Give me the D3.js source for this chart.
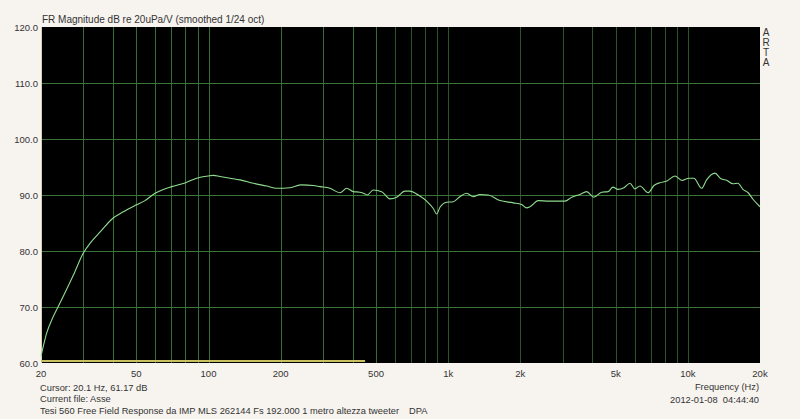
<!DOCTYPE html>
<html><head><meta charset="utf-8">
<script src="https://cdn.jsdelivr.net/npm/d3@7"></script>
<style>
html,body{margin:0;padding:0;background:#f7f3ef;}
svg{display:block;}
text{font-family:"Liberation Sans",Arial,sans-serif;fill:#333;}
</style></head>
<body>
<svg id="c" width="800" height="419"></svg>
<script>
// ---- data ----
const freqHz = [20,21.1,22.5,24.0,27.3,30.0,32.2,35.3,39.8,44.1,49.8,54.3,59.8,64.7,70.2,80.3,89.2,99.8,104.7,111.6,122.9,135.3,153.7,174.8,192.4,218.7,244.7,273.5,291.7,321.1,353.6,377.1,401.8,428.4,449.5,459.5,486.8,527.8,571.6,609.6,659.9,692.4,750.3,813.2,866.5,895.2,924.1,985.3,1050,1119,1194,1272,1357,1469,1644,1868,2025,2125,2194,2375,2615,2835,3070,3275,3545,3782,4056,4367,4653,4868,5107,5411,5731,6013,6309,6832,7217,7644,8177,8831,9446,10102,10599,11412,11973,12972,13740,14555,15418,16177,16970,17857,18734,20000];
const magDb = [61.2,65.3,68.3,70.7,75.7,79.6,81.5,83.4,85.8,87.0,88.2,89.0,90.3,91.0,91.5,92.2,93.0,93.4,93.5,93.3,93.0,92.7,92.1,91.6,91.2,91.3,91.8,91.7,91.5,91.2,90.4,91.2,90.6,90.5,90.2,90.0,90.9,90.6,89.3,89.6,90.7,90.7,90.0,88.9,87.6,86.6,87.8,88.7,88.8,89.7,90.3,89.7,90.1,90.0,89.0,88.6,88.3,87.7,87.9,89.0,88.9,88.9,88.9,89.6,90.1,90.6,89.6,90.5,90.6,91.4,91.0,91.3,92.1,91.1,91.6,90.4,91.7,92.2,92.5,93.4,92.6,93.0,93.0,91.2,92.7,93.9,92.9,92.6,92.0,92.1,91.0,90.4,89.2,87.9];
const yTicks = [60,70,80,90,100,110,120];
const xGrid = [30,40,50,60,70,80,90,100,200,300,400,500,600,700,800,900,1000,2000,3000,4000,5000,6000,7000,8000,9000,10000];
const xTickVals = [20,50,100,200,500,1000,2000,5000,10000,20000];
const xTickLabels = ["20","50","100","200","500","1k","2k","5k","10k","20k"];
const markerRange = [20,450];
const markerDb = 60.35;
const title = "FR Magnitude dB re 20uPa/V (smoothed 1/24 oct)";
const xTitle = "Frequency (Hz)";
const cursorText = "Cursor: 20.1 Hz, 61.17 dB";
const fileText = "Current file: Asse";
const descText = "Tesi 560 Free Field Response da IMP MLS 262144 Fs 192.000 1 metro altezza tweeter";
const tagText = "DPA";
const dateText = "2012-01-08  04:44:40";
const brand = ["A","R","T","A"];

// ---- drawing ----
const L=41, R=760, T=27, B=363;
const svg = d3.select("#c");
const x = d3.scaleLog().domain([20,20000]).range([L,R]);
const y = d3.scaleLinear().domain([60,120]).range([B,T]);

svg.append("rect").attr("x",L).attr("y",T).attr("width",R-L).attr("height",B-T).attr("fill","#000");

const g = svg.append("g");
g.selectAll("line.vg").data(xGrid).enter().append("line")
  .attr("x1",d=>Math.round(x(d))+0.5).attr("x2",d=>Math.round(x(d))+0.5).attr("y1",T).attr("y2",B)
  .attr("stroke",d=>d<=500?"#356e35":"#2a552a").attr("stroke-width",1);
g.selectAll("line.hg").data(yTicks.filter(d=>d>60&&d<120)).enter().append("line")
  .attr("x1",L).attr("x2",R).attr("y1",d=>Math.round(y(d))+0.5).attr("y2",d=>Math.round(y(d))+0.5)
  .attr("stroke","#3a743a").attr("stroke-width",1);

// left border
svg.append("line").attr("x1",L+0.5).attr("x2",L+0.5).attr("y1",T).attr("y2",B)
  .attr("stroke","#d8d0b0").attr("stroke-width",1);

// marker range line (yellow)
svg.append("line").attr("x1",x(markerRange[0])).attr("x2",x(markerRange[1]))
  .attr("y1",y(markerDb)).attr("y2",y(markerDb)).attr("stroke","#c8c060").attr("stroke-width",2);

// curve
const pts = freqHz.map((f,i)=>[f,magDb[i]]);
svg.append("path").datum(pts)
  .attr("d", d3.line().x(d=>x(d[0])).y(d=>y(d[1])).curve(d3.curveMonotoneX))
  .attr("fill","none").attr("stroke","#90dc90").attr("stroke-width",1.1).attr("stroke-linejoin","round");

// y labels
svg.selectAll("text.yl").data(yTicks).enter().append("text")
  .attr("x",38).attr("y",d=>y(d)+4).attr("text-anchor","end").attr("font-size","9.5px")
  .text(d=>d.toFixed(1));

// x labels
svg.selectAll("text.xl").data(xTickVals).enter().append("text")
  .attr("x",d=>x(d)).attr("y",377).attr("text-anchor","middle").attr("font-size","9.5px")
  .text((d,i)=>xTickLabels[i]);

svg.append("text").attr("x",42).attr("y",23).attr("font-size","10px").text(title);
svg.append("text").attr("x",759).attr("y",390).attr("text-anchor","end").attr("font-size","9.3px").text(xTitle);
svg.append("text").attr("x",759).attr("y",403).attr("text-anchor","end").attr("font-size","9.3px").style("white-space","pre").text(dateText);
svg.append("text").attr("x",40).attr("y",391).attr("font-size","9.3px").text(cursorText);
svg.append("text").attr("x",40).attr("y",401.5).attr("font-size","9.3px").text(fileText);
svg.append("text").attr("x",40).attr("y",414).attr("font-size","9.3px").text(descText);
svg.append("text").attr("x",409).attr("y",414).attr("font-size","9.3px").text(tagText);
svg.selectAll("text.br").data(brand).enter().append("text")
  .attr("x",766).attr("y",(d,i)=>36+i*10).attr("text-anchor","middle").attr("font-size","10px").text(d=>d);
</script>
</body></html>
